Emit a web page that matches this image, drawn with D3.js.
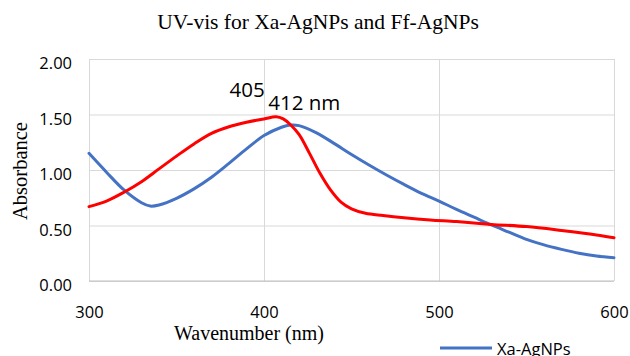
<!DOCTYPE html>
<html lang="en">
<head>
<meta charset="utf-8">
<title>UV-vis</title>
<script src="https://cdnjs.cloudflare.com/ajax/libs/d3/7.8.5/d3.min.js"></script>
<style>
  body { margin: 0; background: #fff; }
  svg { display: block; }
</style>
</head>
<body>
<script>
// wavelengths (nm) and absorbance
var xaWave = [300, 310, 320, 330, 335, 340, 350, 360, 370, 380, 390, 400, 410, 415, 420, 430, 440, 450, 460, 470, 480, 490, 500, 510, 520, 530, 540, 550, 560, 570, 580, 590, 600];
var xaAbs  = [1.15, 0.98, 0.82, 0.705, 0.675, 0.685, 0.745, 0.83, 0.935, 1.06, 1.19, 1.31, 1.385, 1.405, 1.40, 1.335, 1.24, 1.14, 1.045, 0.955, 0.87, 0.79, 0.72, 0.645, 0.575, 0.505, 0.44, 0.375, 0.325, 0.285, 0.25, 0.225, 0.21];

var ffWave = [300, 310, 320, 330, 340, 350, 360, 370, 380, 390, 400, 407, 411, 415, 420, 426, 432, 438, 444, 450, 458, 468, 480, 495, 510, 530, 550, 570, 590, 600];
var ffAbs  = [0.67, 0.72, 0.80, 0.895, 1.01, 1.125, 1.235, 1.33, 1.39, 1.43, 1.46, 1.48, 1.46, 1.41, 1.32, 1.15, 0.97, 0.82, 0.71, 0.65, 0.61, 0.59, 0.57, 0.55, 0.535, 0.51, 0.49, 0.455, 0.415, 0.39];

var xTicks = [300, 400, 500, 600];
var yTicks = [0, 0.5, 1.0, 1.5, 2.0];

var w = 630, h = 356;
var pLeft = 89, pRight = 614, pTop = 59, pBottom = 281;

var svg = d3.select("body").append("svg")
    .attr("width", w)
    .attr("height", h);

var x = d3.scaleLinear().domain([300, 600]).range([pLeft, pRight]);
var y = d3.scaleLinear().domain([0, 2]).range([pBottom, pTop]);

// y gridlines + labels
var gy = svg.append("g")
    .attr("transform", "translate(" + pLeft + ",0)")
    .call(d3.axisLeft(y).tickValues(yTicks).tickFormat(d3.format(".2f"))
        .tickSize(-(pRight - pLeft)).tickPadding(17));
gy.select(".domain").remove();
gy.selectAll("line").attr("stroke", "#d9d9d9");
gy.selectAll("text")
    .attr("dy", "0.6em")
    .attr("font-family", "'Open Sans', sans-serif")
    .attr("font-size", "16.5px")
    .attr("fill", "#000");

// x gridlines + labels
var gx = svg.append("g")
    .attr("transform", "translate(0," + pBottom + ")")
    .call(d3.axisBottom(x).tickValues(xTicks).tickFormat(d3.format("d"))
        .tickSize(-(pBottom - pTop)).tickPadding(0));
gx.select(".domain").remove();
gx.selectAll("line").attr("stroke", "#d9d9d9");
gx.selectAll("text")
    .attr("y", 37)
    .attr("dy", null)
    .attr("font-family", "'Open Sans', sans-serif")
    .attr("font-size", "16.5px")
    .attr("fill", "#000");

// bottom axis line
svg.append("line")
    .attr("x1", pLeft).attr("x2", pRight)
    .attr("y1", pBottom).attr("y2", pBottom)
    .attr("stroke", "#bfbfbf");

// series
var line = d3.line()
    .x(function(d) { return x(d[0]); })
    .y(function(d) { return y(d[1]); })
    .curve(d3.curveCatmullRom.alpha(0.5));

svg.append("path")
    .datum(d3.zip(xaWave, xaAbs))
    .attr("d", line)
    .attr("fill", "none")
    .attr("stroke", "#4472c4")
    .attr("stroke-width", 3)
    .attr("stroke-linecap", "round");

svg.append("path")
    .datum(d3.zip(ffWave, ffAbs))
    .attr("d", line)
    .attr("fill", "none")
    .attr("stroke", "#ff0000")
    .attr("stroke-width", 3)
    .attr("stroke-linecap", "round");

// peak labels
svg.append("text")
    .attr("x", x(390.3)).attr("y", y(1.66))
    .attr("text-anchor", "middle")
    .attr("font-family", "'Open Sans', sans-serif")
    .attr("font-size", "20.5px")
    .text("405");

svg.append("text")
    .attr("x", x(423)).attr("y", y(1.54))
    .attr("text-anchor", "middle")
    .attr("font-family", "'Open Sans', sans-serif")
    .attr("font-size", "20.5px")
    .text("412 nm");

// titles
svg.append("text")
    .attr("x", 318).attr("y", 29)
    .attr("text-anchor", "middle")
    .attr("font-family", "'Liberation Serif', serif")
    .attr("font-size", "21.5px")
    .text("UV-vis for Xa-AgNPs and Ff-AgNPs");

svg.append("text")
    .attr("x", 249).attr("y", 340)
    .attr("text-anchor", "middle")
    .attr("font-family", "'Liberation Serif', serif")
    .attr("font-size", "20px")
    .text("Wavenumber (nm)");

svg.append("text")
    .attr("transform", "translate(27," + 171 + ") rotate(-90)")
    .attr("text-anchor", "middle")
    .attr("font-family", "'Liberation Serif', serif")
    .attr("font-size", "20.5px")
    .text("Absorbance");

// legend (cut off at the bottom edge, as in the source)
var lg = svg.append("g").attr("transform", "translate(440,348)");
lg.append("line")
    .attr("x1", 0).attr("x2", 52)
    .attr("y1", 0).attr("y2", 0)
    .attr("stroke", "#4472c4")
    .attr("stroke-width", 3);
lg.append("text")
    .attr("x", 57).attr("y", 7)
    .attr("font-family", "'Open Sans', sans-serif")
    .attr("font-size", "16.5px")
    .text("Xa-AgNPs");
</script>
</body>
</html>
